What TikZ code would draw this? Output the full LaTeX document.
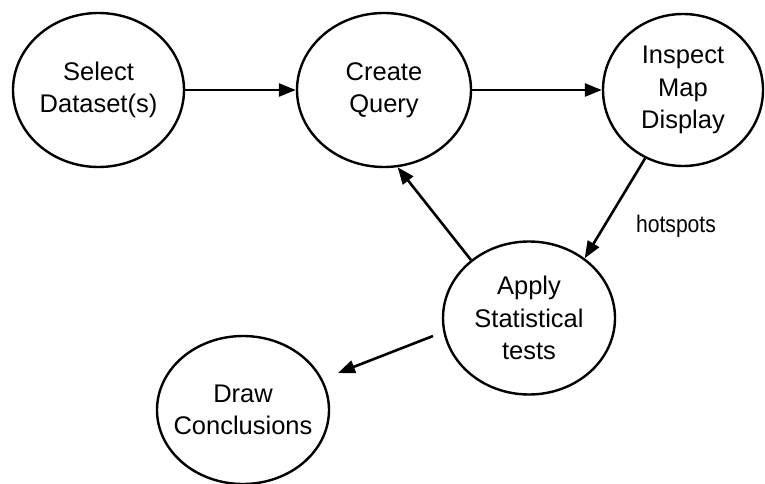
\documentclass[tikz,border=0pt]{standalone}
\usepackage{fontspec}
\setmainfont{Liberation Sans}
\usetikzlibrary{shapes.geometric,arrows.meta}
\begin{document}
\begin{tikzpicture}[x=1pt,y=-1pt,
  stage/.style={ellipse,draw,line width=2.4pt,inner xsep=-15pt,inner ysep=0pt,align=center,
    font=\fontsize{25.5}{32.5}\selectfont},
  flow/.style={line width=2.6pt,-{Triangle[length=17pt,width=13pt]}},
  lbl/.style={font=\fontsize{24}{28}\selectfont,inner sep=0pt}]
\useasboundingbox (0,0) rectangle (765,484);
\node[stage,minimum width=171pt,minimum height=154pt] (sel) at (98.5,90) {Select\\Dataset(s)};
\node[stage,minimum width=174pt,minimum height=154pt] (cq) at (384,90) {Create\\Query};
\node[stage,minimum width=160pt,minimum height=152pt] (ins) at (683,90) {Inspect\\Map\\Display};
\node[stage,minimum width=172pt,minimum height=153pt] (app) at (529,318) {Apply\\Statistical\\tests};
\node[stage,minimum width=172pt,minimum height=148pt] (dc) at (243,410) {Draw\\Conclusions};
\node[lbl,anchor=base] (hot) at (676,232) {\scalebox{0.88}[1]{hotspots}};
\coordinate (ds) at (433,336);
\coordinate (de) at (338,373);
\draw[flow] (sel) -- (cq);
\draw[flow] (cq) -- (ins);
\draw[flow] (ins.241) -- (app.47);
\draw[flow] (app.135) -- (cq.280);
\draw[flow] (ds) -- (de);
\end{tikzpicture}
\end{document}
